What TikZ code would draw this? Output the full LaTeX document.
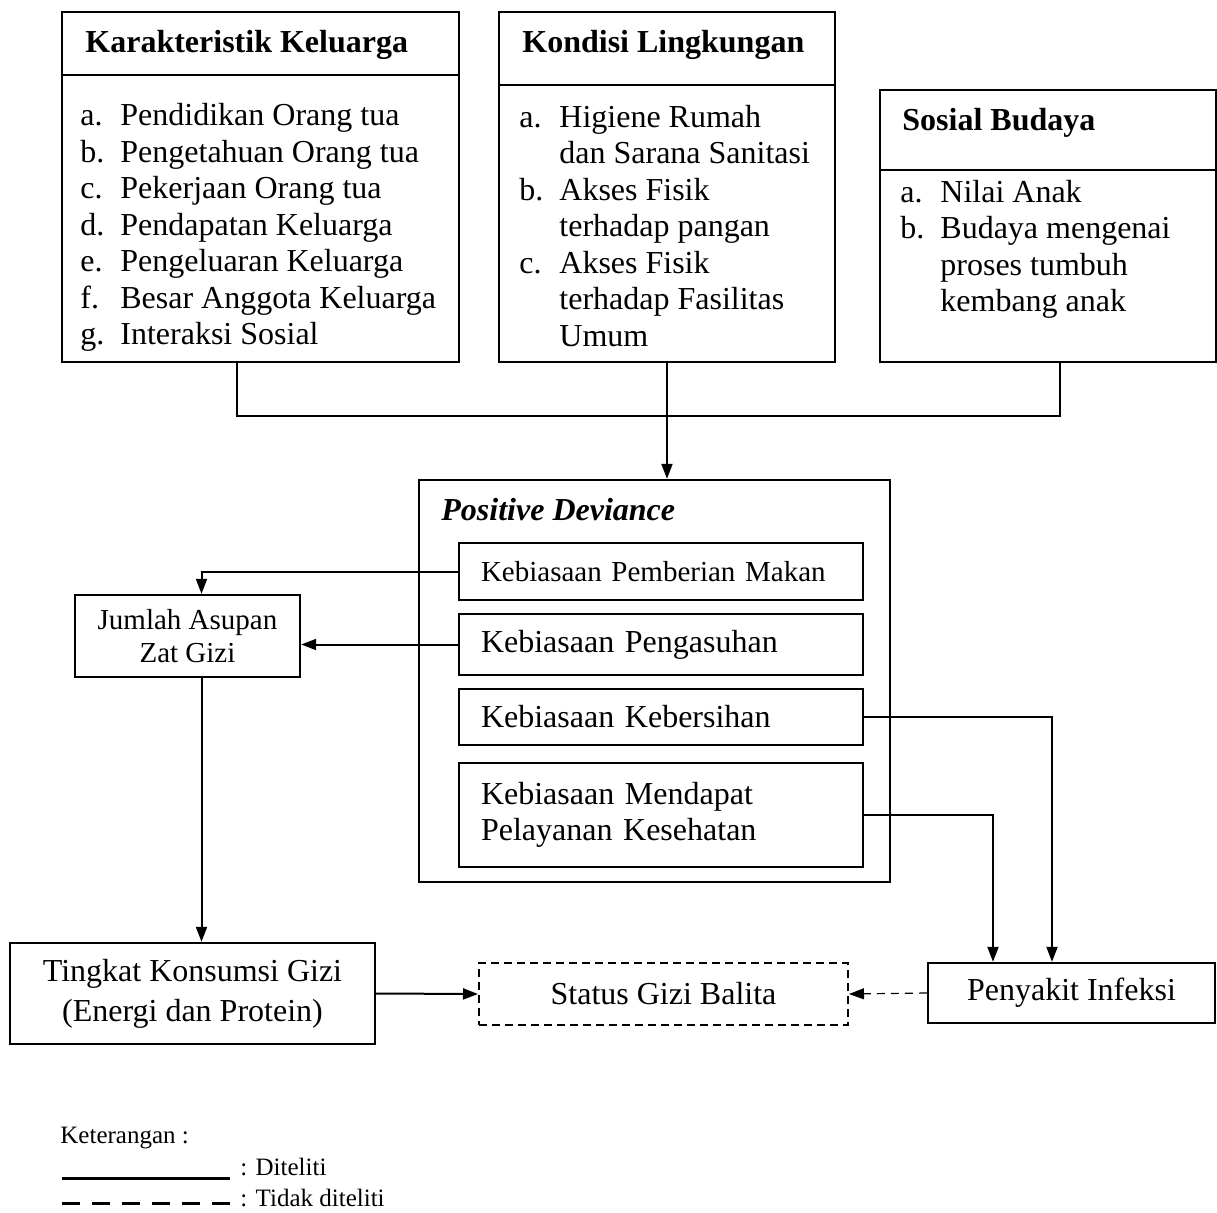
\documentclass[tikz,border=0pt]{standalone}
\usepackage{fontspec}
\setmainfont{Liberation Serif}
\usetikzlibrary{arrows.meta, positioning, fit}
\newcommand{\bodysize}{\fontsize{16}{18.3}\selectfont}
\newcommand{\smallsize}{\fontsize{14.5}{16.5}\selectfont}
\newcommand{\notesize}{\fontsize{12.5}{14}\selectfont}
\newcommand{\itemlbl}[1]{\makebox[20pt][l]{#1}}

\begin{document}
\begin{tikzpicture}[x=0.5pt, y=-0.5pt,
  box/.style={draw, line width=1.2pt, inner sep=0pt},
  headtext/.style={anchor=base west, inner sep=0pt, font=\bodysize\bfseries},
  item/.style={anchor=base west, inner sep=0pt, font=\bodysize},
  habit/.style={box, minimum width=202pt, text width=180pt, align=left, font=\bodysize},
  result/.style={box, align=center, font=\bodysize},
  arr/.style={line width=1pt, -{Triangle[length=7.5pt, width=5.5pt]}}]
  \useasboundingbox (0,0) rectangle (1217,1212);

  % top boxes
  \node[box, fit={(62,12)(459,75)}] (kkHead) {};
  \node[box, fit={(62,75)(459,362)}] (kkBody) {};
  \node[headtext] (kkTitle) at (85,52) {Karakteristik Keluarga};
  \foreach \lbl/\txt [count=\i from 0] in {a./Pendidikan Orang tua, b./Pengetahuan Orang tua,
      c./Pekerjaan Orang tua, d./Pendapatan Keluarga, e./Pengeluaran Keluarga,
      f./Besar Anggota Keluarga, g./Interaksi Sosial}
    \node[item] (kk\i) at (80,125.5+36.5*\i) {\itemlbl{\lbl}\txt};

  \node[box, fit={(499,12)(835,85)}] (klHead) {};
  \node[box, fit={(499,85)(835,362)}] (klBody) {};
  \node[headtext] (klTitle) at (522,52) {Kondisi Lingkungan};
  \foreach \lbl/\txt [count=\i from 0] in {a./Higiene Rumah, /dan Sarana Sanitasi,
      b./Akses Fisik, /terhadap pangan, c./Akses Fisik, /terhadap Fasilitas, /Umum}
    \node[item] (kl\i) at (519,127+36.5*\i) {\itemlbl{\lbl}\txt};

  \node[box, fit={(880,90)(1216,170)}] (sbHead) {};
  \node[box, fit={(880,170)(1216,362)}] (sbBody) {};
  \node[headtext] (sbTitle) at (902,130) {Sosial Budaya};
  \foreach \lbl/\txt [count=\i from 0] in {a./Nilai Anak, b./Budaya mengenai,
      /proses tumbuh, /kembang anak}
    \node[item] (sb\i) at (900,202+36.5*\i) {\itemlbl{\lbl}\txt};

  % positive deviance
  \node[box, fit={(419,480)(890,882)}] (pdFrame) {};
  \node[headtext, font=\bodysize\bfseries\itshape] (pdTitle) at (441,520) {Positive Deviance};
  \node[habit, font=\smallsize, minimum height=28.5pt] (pdMakan) at (661,571.5) {Kebiasaan Pemberian Makan};
  \node[habit, minimum height=30.5pt] (pdAsuh) at (661,644.5) {Kebiasaan Pengasuhan};
  \node[habit, minimum height=28pt] (pdBersih) at (661,717) {Kebiasaan Kebersihan};
  \node[habit, minimum height=52pt] (pdLayan) at (661,815) {Kebiasaan Mendapat\\Pelayanan Kesehatan};

  % outcomes
  \node[result, font=\smallsize, minimum width=112.5pt, minimum height=41pt] (asupan) at (187.5,636) {Jumlah Asupan\\Zat Gizi};
  \node[result, minimum width=182.5pt, minimum height=50.5pt] (konsumsi) at (192.5,993.5) {Tingkat Konsumsi Gizi\\[1.7pt](Energi dan Protein)};
  \node[result, dash pattern=on 4pt off 2.5pt, line width=1pt, minimum width=184.5pt, minimum height=31pt] (status) at (663.5,994) {Status Gizi Balita};
  \node[result, minimum width=143.5pt, minimum height=30pt] (infeksi) at (1071.5,993) {Penyakit Infeksi};

  % connectors
  \coordinate (joinL) at (237,416);
  \coordinate (joinR) at (1060,416);
  \draw[line width=1pt] (kkBody.south -| joinL) -- (joinL) -- (joinR) -- (sbBody.south -| joinR);
  \draw[arr] (klBody.south) -- (klBody.south |- pdFrame.north);
  \draw[arr] (pdMakan.west) -| ([xshift=7pt]asupan.north);
  \draw[arr] (pdAsuh.west) -- (pdAsuh.west -| asupan.east);
  \draw[arr] ([xshift=7pt]asupan.south) -- ([xshift=7pt]asupan.south |- konsumsi.north);
  \draw[arr] (konsumsi.east) -- (status.west);
  \draw[arr, line width=0.6pt, dash pattern=on 4pt off 3pt] (infeksi.west) -- (status.east);
  \draw[arr] (pdBersih.east) -| ([xshift=-9.75pt]infeksi.north);
  \draw[arr] (pdLayan.east) -| ([xshift=-39.25pt]infeksi.north);

  % legend
  \node[anchor=west, inner sep=0pt, font=\notesize] (note) at (60,1138) {Keterangan :};
  \node[anchor=west, inner sep=0pt, font=\notesize] (noteSolid) at (240,1167) {: Diteliti};
  \node[anchor=west, inner sep=0pt, font=\notesize] (noteDash) at (240,1198) {: Tidak diteliti};
  \draw[line width=1.5pt] (62,1178) -- (230,1178);
  \draw[line width=1.5pt, dash pattern=on 9pt off 6pt] (62,1203) -- (230,1203);
\end{tikzpicture}
\end{document}
